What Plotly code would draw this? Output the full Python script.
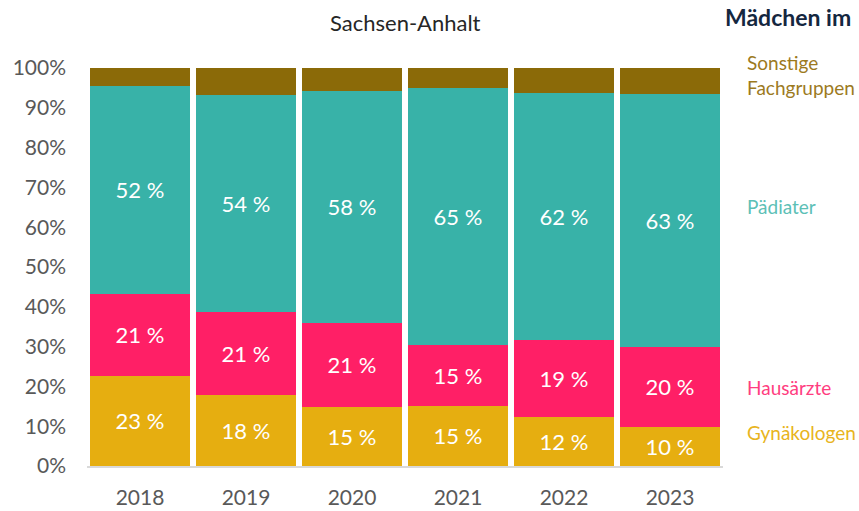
import plotly.graph_objects as go

years = ["2018", "2019", "2020", "2021", "2022", "2023"]
gynaekologen = [22.7, 17.8, 14.8, 15.1, 12.3, 9.9]
hausaerzte = [20.6, 21.0, 21.2, 15.2, 19.4, 20.1]
paediater = [52.2, 54.4, 58.2, 64.8, 62.1, 63.4]
sonstige = [4.5, 6.8, 5.8, 4.9, 6.2, 6.6]
y_ticks = [0, 10, 20, 30, 40, 50, 60, 70, 80, 90, 100]

series = [
    ("Gynäkologen", gynaekologen, "#E6AE10", True),
    ("Hausärzte", hausaerzte, "#FF1F66", True),
    ("Pädiater", paediater, "#38B2A8", True),
    ("Sonstige Fachgruppen", sonstige, "#8B6A08", False),
]

FONT = "Lato, 'Open Sans', sans-serif"
fig = go.Figure()
for name, vals, color, show in series:
    fig.add_trace(go.Bar(
        x=years, y=vals, name=name,
        marker=dict(color=color, line=dict(width=0)),
        text=[f"{round(v)} %" for v in vals] if show else None,
        textposition="inside" if show else "none",
        insidetextanchor="middle",
        textfont=dict(color="white", size=22, family=FONT),
        constraintext="none",
        hoverinfo="skip",
    ))

# right side category labels
legend_labels = [
    ("Sonstige<br>Fachgruppen", 98.2, "#9C7A1E"),
    ("Pädiater", 65.1, "#5CC0B6"),
    ("Hausärzte", 19.6, "#FF3D7F"),
    ("Gynäkologen", 8.3, "#E8B420"),
]
for txt, yv, col in legend_labels:
    fig.add_annotation(
        x=1.0346, xref="paper", y=yv, yref="y", text=txt, showarrow=False,
        xanchor="left", yanchor="middle", align="left",
        font=dict(color=col, size=19, family=FONT),
    )

fig.add_annotation(
    x=1.0, xref="paper", y=1.0, yref="paper", yshift=51,
    text="<b>Mädchen im</b>", showarrow=False, xanchor="left", yanchor="middle",
    font=dict(color="#14273F", size=23, family=FONT),
)
fig.add_annotation(
    x=0.5, xref="paper", y=1.0, yref="paper", yshift=46,
    text="Sachsen-Anhalt", showarrow=False, xanchor="center", yanchor="middle",
    font=dict(size=22, color="#262626", family=FONT),
)

fig.update_layout(
    width=859, height=511,
    margin=dict(l=87, r=136, t=68, b=45, autoexpand=False),
    barmode="stack", bargap=0.057,
    showlegend=False,
    plot_bgcolor="white", paper_bgcolor="white",
    font=dict(family=FONT),
)
fig.update_xaxes(
    type="category", showgrid=False, showline=True, linecolor="#D9D9D9",
    linewidth=1.5, ticks="", tickfont=dict(size=21, color="#595959"),
    ticklabelstandoff=12, automargin=False,
)
fig.update_yaxes(
    range=[0, 100], tickvals=y_ticks, ticktext=[f"{t}%" for t in y_ticks],
    showgrid=False, zeroline=False, showline=False, ticks="",
    tickfont=dict(size=21, color="#595959"), ticklabelstandoff=20,
    automargin=False,
)

fig.write_html("out.html", config={"displayModeBar": False},
               post_script="document.body.style.margin='0';")
